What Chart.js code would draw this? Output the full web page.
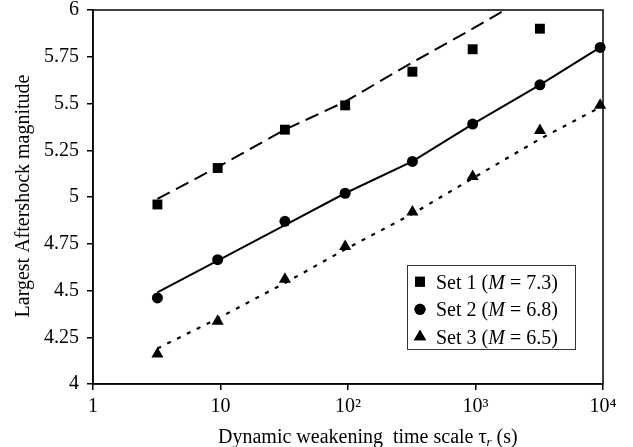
<!DOCTYPE html>
<html>
<head>
<meta charset="utf-8">
<script src="https://cdn.jsdelivr.net/npm/chart.js@4"></script>
<style>
  html, body { margin: 0; padding: 0; background: #fff; }
  #wrap { width: 633px; height: 447px; position: relative; }
</style>
</head>
<body>
<div id="wrap"><canvas id="chart"></canvas></div>
<script>
// data
const tau = [3.2, 9.5, 32, 95, 320, 950, 3200, 9500];
const set1 = [4.96, 5.155, 5.36, 5.49, 5.67, 5.79, 5.90];
const set2 = [4.46, 4.665, 4.87, 5.02, 5.19, 5.39, 5.60, 5.80];
const set3 = [4.16, 4.335, 4.56, 4.735, 4.92, 5.11, 5.355, 5.49];

// fitted curves (read at the same tau values)
const fit1Tau = [3.2, 9.5, 32, 95, 320, 950, 1700];
const fit1 = [4.99, 5.16, 5.36, 5.51, 5.72, 5.90, 6.0];
const fit2 = [4.49, 4.66, 4.85, 5.02, 5.19, 5.39, 5.60, 5.80];
const fit3 = [4.19, 4.35, 4.54, 4.72, 4.91, 5.10, 5.31, 5.48];

const setNames = ["Set 1", "Set 2", "Set 3"];
const setMagnitudes = ["7.3", "6.8", "6.5"];

const xTicks = [1, 10, 100, 1000, 10000];
const xTickLabels = ["1", "10", "10\u00B2", "10\u00B3", "10\u2074"];

const FONT = '"Liberation Serif", "Times New Roman", serif';

function pts(xs, ys) {
    return ys.map((y, i) => ({ x: xs[i], y: y }));
}

// box frame, axis titles and legend
const extras = {
    id: "extras",
    afterDatasetsDraw(chart) {
        const ctx = chart.ctx;
        const a = chart.chartArea;
        ctx.save();
        ctx.strokeStyle = "#000";
        ctx.lineWidth = 1.5;
        ctx.strokeRect(a.left, a.top, a.right - a.left, a.bottom - a.top);

        // y title
        ctx.fillStyle = "#000";
        ctx.font = "20px " + FONT;
        ctx.textAlign = "center";
        ctx.textBaseline = "middle";
        ctx.save();
        ctx.translate(24, 196);
        ctx.rotate(-Math.PI / 2);
        ctx.fillText("Largest Aftershock magnitude", 0, 0);
        ctx.restore();

        // x title with subscript
        ctx.textAlign = "left";
        ctx.textBaseline = "alphabetic";
        let x = 218, y = 443;
        const t1 = "Dynamic weakening  time scale \u03C4";
        ctx.font = "20px " + FONT;
        ctx.fillText(t1, x, y);
        x += ctx.measureText(t1).width;
        ctx.font = "italic 13px " + FONT;
        ctx.fillText("r", x, y + 3);
        x += ctx.measureText("r").width;
        ctx.font = "20px " + FONT;
        ctx.fillText(" (s)", x, y);

        // legend
        ctx.lineWidth = 1;
        ctx.strokeStyle = "#333";
        ctx.strokeRect(407.5, 265.5, 168, 84);
        const rows = [281.7, 309.3, 336.7];
        const styles = ["rect", "circle", "triangle"];
        const radii = [7, 5.5, 7];
        rows.forEach((ry, i) => {
            ctx.fillStyle = "#000";
            ctx.beginPath();
            Chart.helpers.drawPoint(ctx, { pointStyle: styles[i], radius: radii[i], rotation: 0, borderWidth: 0 }, 420, ry);
            ctx.fill();
            let lx = 436;
            const ly = ry + 7;
            const parts = [[setNames[i] + " (", ""], ["M", "italic "], [" = " + setMagnitudes[i] + ")", ""]];
            parts.forEach(p => {
                ctx.font = p[1] + "20px " + FONT;
                ctx.fillText(p[0], lx, ly);
                lx += ctx.measureText(p[0]).width;
            });
        });
        ctx.restore();
    }
};

const ctx = document.getElementById("chart").getContext("2d");
new Chart(ctx, {
    type: "scatter",
    data: {
        datasets: [
            { label: "Set 1", data: pts(tau, set1), pointStyle: "rect", pointRadius: 7, backgroundColor: "#000", borderColor: "#000", borderWidth: 0, clip: false },
            { label: "Set 2", data: pts(tau, set2), pointStyle: "circle", pointRadius: 5.5, backgroundColor: "#000", borderColor: "#000", borderWidth: 0, clip: false },
            { label: "Set 3", data: pts(tau, set3), pointStyle: "triangle", pointRadius: 7, backgroundColor: "#000", borderColor: "#000", borderWidth: 0, clip: false },
            { label: "fit 1", data: pts(fit1Tau, fit1), showLine: true, pointRadius: 0, borderColor: "#000", borderWidth: 2, borderDash: [14, 7] },
            { label: "fit 2", data: pts(tau, fit2), showLine: true, pointRadius: 0, borderColor: "#000", borderWidth: 2 },
            { label: "fit 3", data: pts(tau, fit3), showLine: true, pointRadius: 0, borderColor: "#000", borderWidth: 2.2, borderDash: [4, 7] }
        ]
    },
    options: {
        responsive: true,
        maintainAspectRatio: false,
        animation: false,
        events: [],
        layout: { padding: { left: 0, top: 10, right: 30, bottom: 0 } },
        plugins: { legend: { display: false }, tooltip: { enabled: false } },
        scales: {
            x: {
                type: "logarithmic",
                min: 1,
                max: 10000,
                border: { color: "#000", width: 1.5 },
                grid: { drawOnChartArea: false, drawTicks: true, tickLength: 6, color: "#000", lineWidth: 1.5 },
                ticks: {
                    color: "#000",
                    font: { family: FONT, size: 20 },
                    padding: 5,
                    maxRotation: 0,
                    autoSkip: false,
                    callback: (v) => xTickLabels[xTicks.indexOf(v)]
                },
                afterBuildTicks: (s) => { s.ticks = xTicks.map(v => ({ value: v })); },
                afterFit: (s) => { s.height = 63; s.paddingLeft = 0; s.paddingRight = 0; }
            },
            y: {
                type: "linear",
                min: 4,
                max: 6,
                border: { color: "#000", width: 1.5 },
                grid: { drawOnChartArea: false, drawTicks: true, tickLength: 6, color: "#000", lineWidth: 1.5 },
                ticks: {
                    stepSize: 0.25,
                    color: "#000",
                    font: { family: FONT, size: 20 },
                    padding: 8,
                    callback: (v) => String(v)
                },
                afterFit: (s) => { s.width = 93; s.paddingTop = 0; s.paddingBottom = 0; }
            }
        }
    },
    plugins: [extras]
});
</script>
</body>
</html>
